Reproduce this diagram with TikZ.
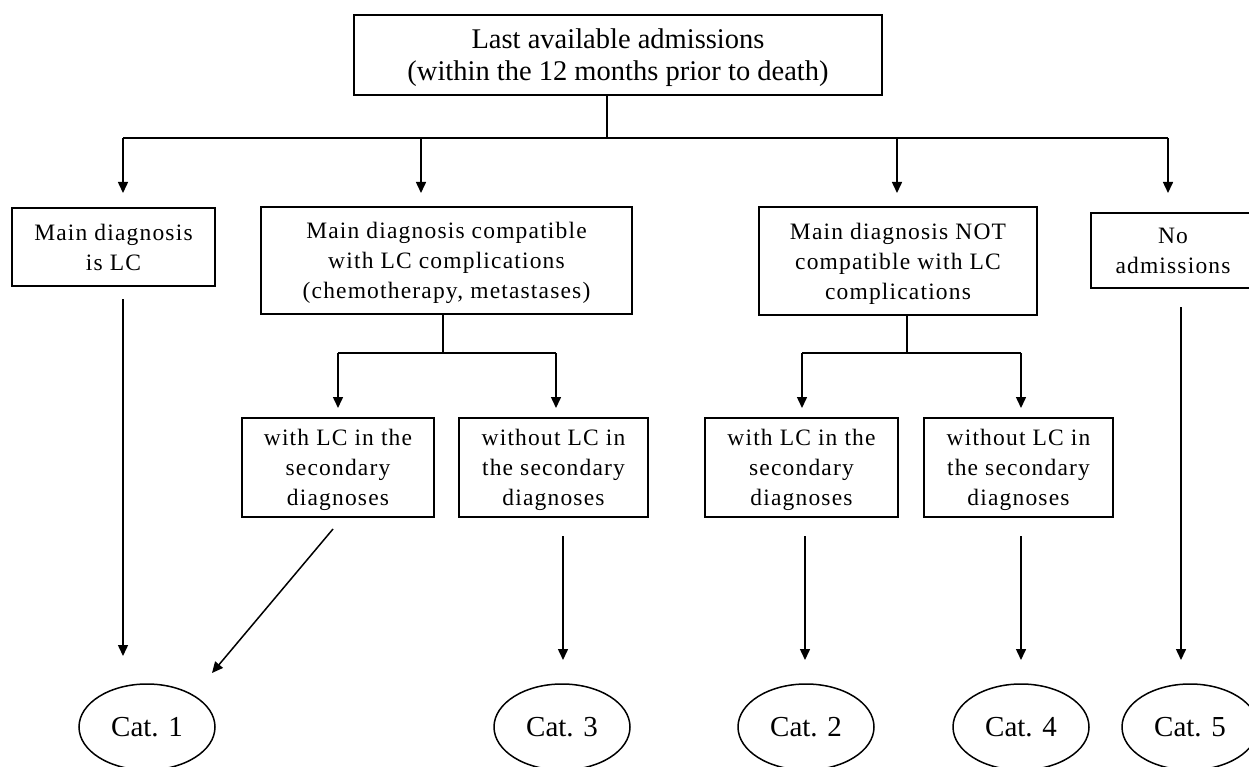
\documentclass[tikz,border=0pt]{standalone}
\usepackage{fontspec}
\setmainfont{Liberation Serif}
\newfontfamily\boxfont[LetterSpace=5]{Liberation Serif}
\usetikzlibrary{shapes.geometric,arrows.meta}
\begin{document}
\begin{tikzpicture}[x=1pt,y=-1pt,
  box/.style={draw, line width=1.5pt, rectangle, align=center, inner sep=0pt, text depth=0pt, font=\boxfont\fontsize{23.5}{30}\selectfont},
  cat/.style={draw, line width=1.5pt, ellipse, minimum width=136pt, minimum height=86pt, inner sep=0pt, font=\fontsize{29}{34}\selectfont},
  ln/.style={line width=1.5pt},
  arr/.style={line width=1.5pt, -{Triangle[length=11pt,width=10pt]}}
]
\useasboundingbox (0,0) rectangle (1249,767);
% boxes
\node[box, minimum width=528pt, minimum height=80pt, font=\fontsize{28.5}{32}\selectfont] (top) at (618,55) {Last available admissions\\(within the 12 months prior to death)};
\node[box, minimum width=203pt, minimum height=78pt] (b1) at (113.5,247) {Main diagnosis\\is LC};
\node[box, minimum width=371pt, minimum height=107pt] (b2) at (446.5,260.5) {Main diagnosis compatible\\with LC complications\\(chemotherapy, metastases)};
\node[box, minimum width=278pt, minimum height=108pt] (b3) at (898,261) {Main diagnosis NOT\\compatible with LC\\complications};
\node[box, minimum width=164pt, minimum height=75pt] (b4) at (1173,250.5) {No\\admissions};
\node[box, minimum width=192pt, minimum height=99pt] (b2a) at (338,467.5) {with LC in the\\secondary\\diagnoses};
\node[box, minimum width=189pt, minimum height=99pt] (b2b) at (553.5,467.5) {without LC in\\the secondary\\diagnoses};
\node[box, minimum width=193pt, minimum height=99pt] (b3a) at (801.5,467.5) {with LC in the\\secondary\\diagnoses};
\node[box, minimum width=189pt, minimum height=99pt] (b3b) at (1018.5,467.5) {without LC in\\the secondary\\diagnoses};
% categories
\node[cat] (c1) at (147,727) {Cat. 1};
\node[cat] (c3) at (562,727) {Cat. 3};
\node[cat] (c2) at (806,727) {Cat. 2};
\node[cat] (c4) at (1021,727) {Cat. 4};
\node[cat] (c5) at (1190,727) {Cat. 5};
% coordinates
\coordinate (t0) at (607,95);
\coordinate (t1) at (607,138);
\coordinate (h1) at (123,138);
\coordinate (h2) at (421,138);
\coordinate (h3) at (897,138);
\coordinate (h4) at (1168,138);
\coordinate (a1) at (123,193);
\coordinate (a2) at (421,193);
\coordinate (a3) at (897,193);
\coordinate (a4) at (1168,193);
\coordinate (s2) at (443,314);
\coordinate (s2m) at (443,353);
\coordinate (s2l) at (338,353);
\coordinate (s2r) at (556,353);
\coordinate (s2la) at (338,408);
\coordinate (s2ra) at (556,408);
\coordinate (s3) at (907,315);
\coordinate (s3m) at (907,353);
\coordinate (s3l) at (802,353);
\coordinate (s3r) at (1021,353);
\coordinate (s3la) at (802,408);
\coordinate (s3ra) at (1021,408);
\coordinate (d1) at (123,299);
\coordinate (e1) at (123,656);
\coordinate (d2a) at (333,529);
\coordinate (e2a) at (212,673);
\coordinate (d2b) at (563,536);
\coordinate (e2b) at (563,660);
\coordinate (d3a) at (805,536);
\coordinate (e3a) at (805,660);
\coordinate (d3b) at (1021,536);
\coordinate (e3b) at (1021,660);
\coordinate (d4) at (1181,307);
\coordinate (e4) at (1181,660);
% connectors
\draw[ln] (t0) -- (t1);
\draw[ln] (h1) -- (h4);
\draw[arr] (h1) -- (a1);
\draw[arr] (h2) -- (a2);
\draw[arr] (h3) -- (a3);
\draw[arr] (h4) -- (a4);
\draw[ln] (s2) -- (s2m);
\draw[ln] (s2l) -- (s2r);
\draw[arr] (s2l) -- (s2la);
\draw[arr] (s2r) -- (s2ra);
\draw[ln] (s3) -- (s3m);
\draw[ln] (s3l) -- (s3r);
\draw[arr] (s3l) -- (s3la);
\draw[arr] (s3r) -- (s3ra);
\draw[arr] (d1) -- (e1);
\draw[arr] (d2a) -- (e2a);
\draw[arr] (d2b) -- (e2b);
\draw[arr] (d3a) -- (e3a);
\draw[arr] (d3b) -- (e3b);
\draw[arr] (d4) -- (e4);
\end{tikzpicture}
\end{document}
